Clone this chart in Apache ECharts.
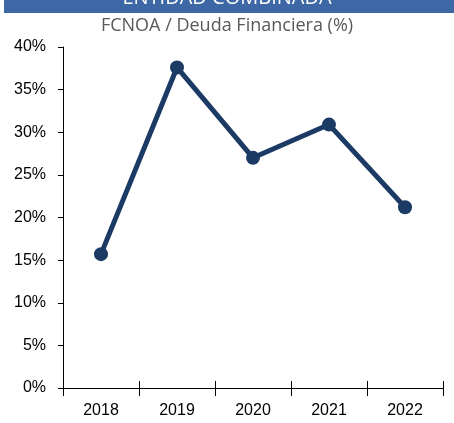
<!DOCTYPE html>
<html>
<head>
<meta charset="utf-8">
<script src="https://cdn.jsdelivr.net/npm/echarts@6/dist/echarts.min.js"></script>
<style>
  html, body { margin: 0; padding: 0; background: #fff; }
  #chart { width: 454px; height: 423px; }
</style>
</head>
<body>
<div id="chart"></div>
<script>
// datos
const years = ['2018', '2019', '2020', '2021', '2022'];
const ratio = [15.7, 37.6, 27.0, 30.9, 21.2];
const headerText = 'ENTIDAD COMBINADA';
const subtitleText = 'FCNOA / Deuda Financiera (%)';

const myChart = echarts.init(document.getElementById('chart'));

const option = {
  backgroundColor: '#fff',
  animation: false,
  graphic: [
    {
      type: 'rect',
      left: 4,
      top: 0,
      shape: { width: 450, height: 13 },
      style: { fill: '#3d67a5' }
    },
    {
      type: 'text',
      left: 'center',
      top: -12,
      style: {
        text: headerText,
        fill: '#fff',
        font: '20px "Open Sans", sans-serif'
      }
    }
  ],
  title: {
    text: subtitleText,
    left: 'center',
    top: 12,
    textStyle: {
      fontSize: 18,
      fontWeight: 'normal',
      color: '#595959',
      fontFamily: 'Open Sans'
    }
  },
  grid: {
    left: 63,
    right: 11,
    top: 47,
    bottom: 35
  },
  xAxis: [
    {
      type: 'category',
      data: years,
      boundaryGap: true,
      axisLine: { lineStyle: { color: '#000', width: 1 } },
      axisTick: { show: true, length: 8, lineStyle: { color: '#000' } },
      axisLabel: {
        color: '#000',
        fontSize: 16,
        fontFamily: 'Liberation Sans',
        margin: 15
      },
      splitLine: { show: false }
    },
    {
      // ticks que cruzan el eje hacia arriba
      type: 'category',
      data: years,
      position: 'bottom',
      boundaryGap: true,
      axisLine: { show: false },
      axisTick: { show: true, inside: true, length: 7, lineStyle: { color: '#000' } },
      axisLabel: { show: false },
      splitLine: { show: false }
    }
  ],
  yAxis: {
    type: 'value',
    min: 0,
    max: 40,
    interval: 5,
    axisLine: { show: true, lineStyle: { color: '#000', width: 1 } },
    axisTick: { show: true, length: 5, lineStyle: { color: '#000' } },
    axisLabel: {
      color: '#000',
      fontSize: 16,
      fontFamily: 'Liberation Sans',
      margin: 17,
      formatter: '{value}%'
    },
    splitLine: { show: false }
  },
  series: [
    {
      name: subtitleText,
      type: 'line',
      data: ratio,
      symbol: 'circle',
      symbolSize: 14,
      itemStyle: { color: '#1b3a64' },
      lineStyle: { color: '#1b3a64', width: 5 }
    }
  ]
};

myChart.setOption(option, true);
</script>
</body>
</html>
